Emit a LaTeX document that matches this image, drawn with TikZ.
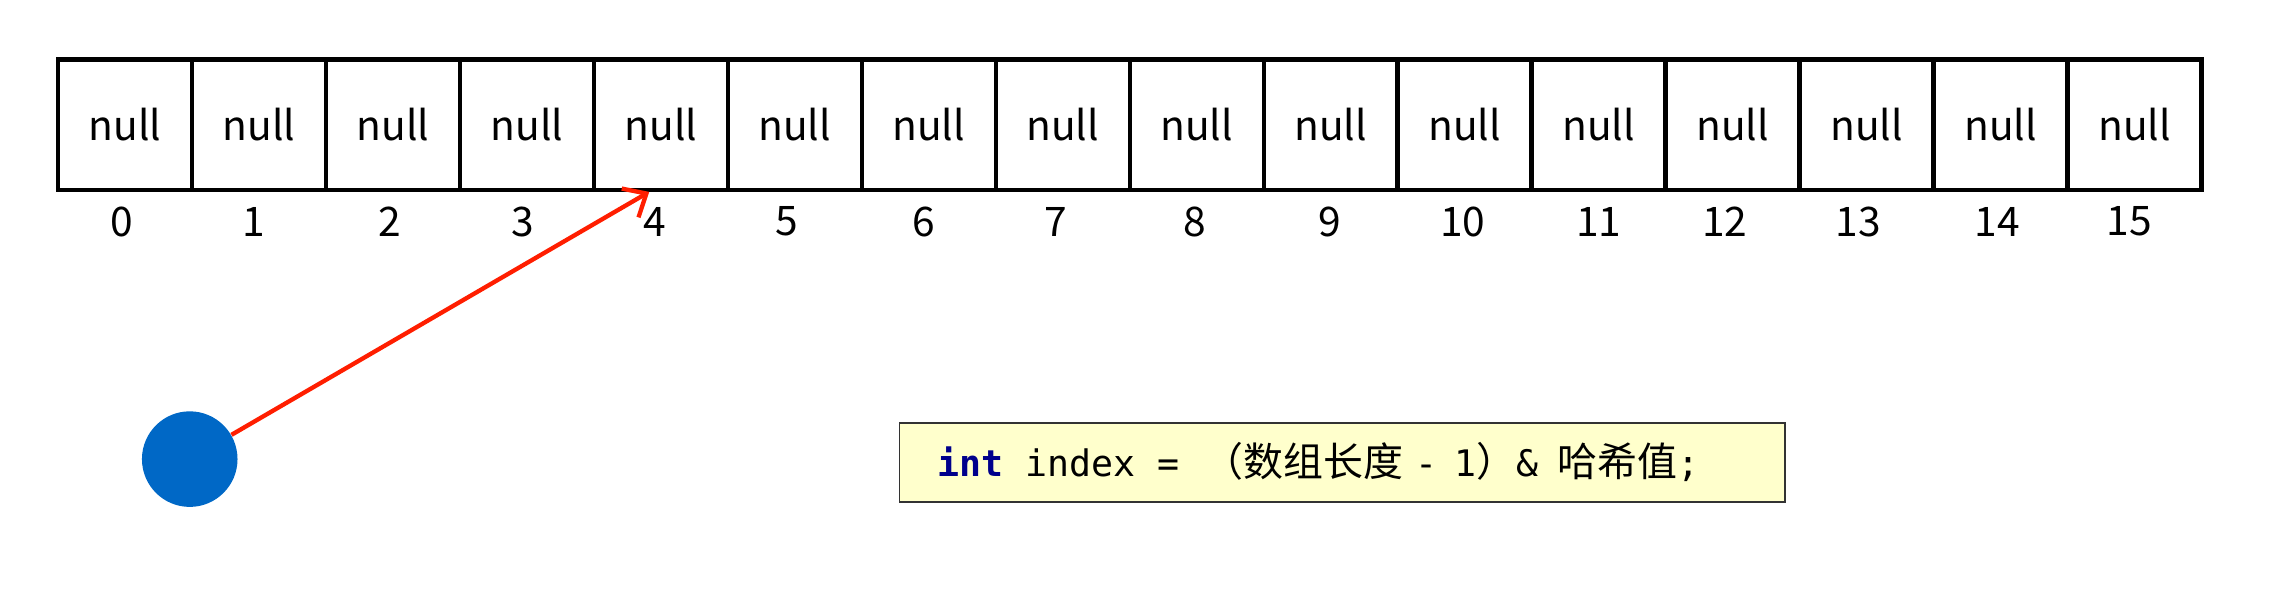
\documentclass[tikz,border=0pt]{standalone}
\usepackage{fontspec}
\newfontfamily\cjk{Noto Sans CJK SC}
\setmonofont[Scale=0.915]{DejaVu Sans Mono}
\usetikzlibrary{arrows.meta}
\definecolor{dotblue}{RGB}{0,104,198}
\definecolor{ptrred}{RGB}{255,30,0}
\definecolor{codebg}{RGB}{255,255,204}
\definecolor{kwblue}{RGB}{0,0,140}
\newcommand\csp[1][.304cm]{\hspace{#1}}
\begin{document}
\begin{tikzpicture}[x=.02cm,y=.02cm,
  cell/.style={draw,line width=1.7pt,minimum width=1.85cm,minimum height=1.8cm,inner sep=0pt,
    font=\cjk\fontsize{16pt}{18pt}\selectfont},
  idx/.style={inner sep=0pt,font=\cjk\fontsize{16pt}{18pt}\selectfont},
  ptr/.style={draw=ptrred,line width=1.7pt,-{Straight Barb[length=2.6mm,width=4.6mm]}},
  codebox/.style={draw=black!80,line width=.6pt,fill=codebg,text width=11.19cm,inner xsep=.52cm,
    minimum height=1.09cm,align=left,font=\cjk\fontsize{15.7pt}{18pt}\selectfont}]
\useasboundingbox (0,0) rectangle (1568,407.4);
\node[cell] (c0) at (86.25,321.4) {null};
\node[cell] (c1) at (178.75,321.4) {null};
\node[cell] (c2) at (271.25,321.4) {null};
\node[cell] (c3) at (363.75,321.4) {null};
\node[cell] (c4) at (456.25,321.4) {null};
\node[cell] (c5) at (548.75,321.4) {null};
\node[cell] (c6) at (641.25,321.4) {null};
\node[cell] (c7) at (733.75,321.4) {null};
\node[cell] (c8) at (826.25,321.4) {null};
\node[cell] (c9) at (918.75,321.4) {null};
\node[cell] (c10) at (1011.25,321.4) {null};
\node[cell] (c11) at (1103.75,321.4) {null};
\node[cell] (c12) at (1196.25,321.4) {null};
\node[cell] (c13) at (1288.75,321.4) {null};
\node[cell] (c14) at (1381.25,321.4) {null};
\node[cell] (c15) at (1473.75,321.4) {null};
\node[idx] (i0) at (84,254.4) {0};
\node[idx] (i1) at (175,254.4) {1};
\node[idx] (i2) at (269,254.4) {2};
\node[idx] (i3) at (361,254.4) {3};
\node[idx] (i4) at (452,254.4) {4};
\node[idx] (i5) at (543,254.4) {5};
\node[idx] (i6) at (638,254.4) {6};
\node[idx] (i7) at (729,254.4) {7};
\node[idx] (i8) at (825,254.4) {8};
\node[idx] (i9) at (918,254.4) {9};
\node[idx] (i10) at (1010,254.4) {10};
\node[idx] (i11) at (1104,254.4) {11};
\node[idx] (i12) at (1191,254.4) {12};
\node[idx] (i13) at (1283,254.4) {13};
\node[idx] (i14) at (1379,254.4) {14};
\node[idx] (i15) at (1470,254.4) {15};
\node[circle,fill=dotblue,minimum size=1.32cm,inner sep=0pt] (dot) at (131,90.4) {};
\draw[ptr] (dot) -- ([xshift=-.16cm]c4.south);
\node[codebox] (code) at (926.75,88.1) {{\ttfamily\textcolor{kwblue}{\bfseries int}\csp index\csp=\csp[.34cm]}（数组长度{\ttfamily\csp[.16cm]-\csp[.24cm]1}）{\ttfamily\&\csp[.26cm]}哈希值{\ttfamily;}};
\end{tikzpicture}
\end{document}
